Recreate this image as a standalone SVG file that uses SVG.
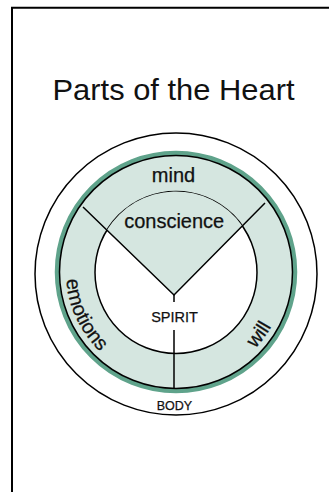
<svg xmlns="http://www.w3.org/2000/svg" width="329" height="492" viewBox="0 0 329 492">
<style>
.ln{fill:none;stroke:#000;stroke-width:1.5}
.t{font-family:"Liberation Sans",Arial,sans-serif;fill:#111}
.lb{stroke:#111;stroke-width:0.25}
</style>
<defs>
<path id="ring" d="M66,272 A110,110 0 1 0 286,272 A110,110 0 1 0 66,272"/>
</defs>
<rect width="329" height="492" fill="#fff"/>
<path d="M12,492 V7.7 H329" fill="none" stroke="#000" stroke-width="2"/>
<text class="t" x="173.5" y="100" font-size="29" text-anchor="middle" textLength="242" lengthAdjust="spacingAndGlyphs">Parts of the Heart</text>
<g id="body">
<circle class="ln" cx="176" cy="274" r="141"/>
<text class="t lb" x="174.5" y="409.5" font-size="12.5" text-anchor="middle">BODY</text>
</g>
<g id="soul">
<circle cx="176" cy="272" r="119" fill="#d5e6e0" stroke="#5fa38b" stroke-width="4.5"/>
<circle class="ln" cx="176" cy="272" r="116.5"/>
</g>
<g id="spirit">
<circle cx="176" cy="272.4" r="81" style="fill:#fff;stroke:#000;stroke-width:1.5"/>
<path d="M174,295 L106.9,230.1 A81,81 0 0 1 242.3,225.9 Z" fill="#d5e6e0"/>
<text class="t lb" x="174.5" y="322" font-size="14.5" text-anchor="middle">SPIRIT</text>
</g>
<g id="connectors">
<path class="ln" d="M83,207 L174,295 L265,203"/>
<path class="ln" d="M174,295 V302 M174,330 V388.5"/>
</g>
<g id="mind"><text class="t lb" x="173.5" y="182" font-size="20" text-anchor="middle">mind</text></g>
<g id="conscience"><text class="t lb" x="174.2" y="227.5" font-size="20" text-anchor="middle">conscience</text></g>
<g id="emotions"><text class="t lb" font-size="20"><textPath href="#ring" startOffset="7.7">emotions</textPath></text></g>
<g id="will"><text class="t lb" font-size="20" text-anchor="middle"><textPath href="#ring" startOffset="274.5">will</textPath></text></g>
</svg>
